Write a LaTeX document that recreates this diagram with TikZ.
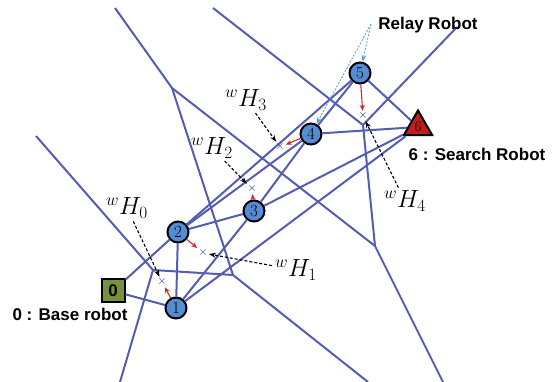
\documentclass[tikz,border=0pt]{standalone}
\usepackage{fontspec}
\usepackage{amsmath}
\usetikzlibrary{shapes.geometric,arrows.meta}
\newfontfamily\lblfont{Liberation Sans}
\definecolor{voro}{RGB}{84,92,180}
\definecolor{robotblue}{RGB}{84,141,212}
\definecolor{baseolive}{RGB}{118,146,60}
\definecolor{searchred}{RGB}{190,30,30}
\definecolor{relayblue}{RGB}{91,155,213}
\definecolor{crossblue}{RGB}{25,40,120}
\definecolor{moveRed}{RGB}{210,40,40}

\begin{document}
\begin{tikzpicture}[x=1pt,y=-1pt,
  robot/.style={circle,draw=black,line width=2pt,fill=robotblue,minimum size=21pt,inner sep=0pt,font=\fontsize{17}{17}\selectfont},
  basebox/.style={draw=black,line width=2pt,fill=baseolive,minimum size=23pt,inner sep=0pt,font=\lblfont\bfseries\fontsize{17}{17}\selectfont},
  searchtri/.style={regular polygon,regular polygon sides=3,draw=black,line width=2pt,fill=searchred,minimum size=33pt,inner sep=0pt,font=\fontsize{15}{15}\selectfont},
  link/.style={draw=voro,line width=2pt},
  hmark/.style={inner sep=1pt,text=crossblue,font=\fontsize{13}{13}\selectfont},
  hlabel/.style={inner sep=1pt,font=\fontsize{23}{23}\selectfont},
  caption/.style={inner sep=0pt,font=\lblfont\bfseries\fontsize{17}{17}\selectfont},
  toward/.style={draw=moveRed,line width=1.1pt,-{Stealth[length=6pt,width=5pt]}},
  pointer/.style={draw=black,line width=1.1pt,dash pattern=on 3pt off 2pt,shorten <=2pt,-{Stealth[length=7pt,width=5pt]}},
  relay/.style={draw=relayblue,line width=0.8pt,dash pattern=on 2pt off 1.5pt,-{Stealth[length=7pt,width=5pt]}}
]
\useasboundingbox (0,0) rectangle (555,382);

% robots
\node[basebox] (r0) at (113,291) {0};
\node[robot] (r1) at (176,308) {1};
\node[robot] (r2) at (178,232) {2};
\node[robot] (r3) at (254,211) {3};
\node[robot] (r4) at (311,134) {4};
\node[robot] (r5) at (360,73) {5};
\node[searchtri] (r6) at (418,127) {6};

% cell borders
\coordinate (v1) at (172,88);
\coordinate (v2) at (233,275);
\coordinate (v3) at (153,270);
\coordinate (v4) at (375,246);
\coordinate (v5) at (363,125);
\coordinate (e1) at (115,8);
\coordinate (e2) at (213,8);
\coordinate (e3) at (457,27);
\coordinate (e4) at (36,136);
\coordinate (e5) at (120,382);
\coordinate (e6) at (368,382);
\coordinate (e7) at (443,382);

\draw[link] (e1) -- (v1) -- (v4) -- (e7);
\draw[link] (v1) -- (v2) -- (e6);
\draw[link] (e4) -- (v3) -- (e5);
\draw[link] (v3) -- (v2);
\draw[link] (e2) -- (v5) -- (e3);
\draw[link] (v5) -- (v4);

% links between robots
\foreach \a/\b in {0/1,0/2,1/2,1/3,1/6,2/3,2/4,2/5,3/4,3/6,4/5,4/6,5/6}{
	\draw[link] (r\a) -- (r\b);
}

% hop points
\node[hmark] (h0) at (162,282) {$\times$};
\node[hmark] (h1) at (203,253) {$\times$};
\node[hmark] (h2) at (252,189) {$\times$};
\node[hmark] (h3) at (280,147) {$\times$};
\node[hmark] (h4) at (363,116) {$\times$};

\draw[toward] (r1) -- (h0);
\draw[toward] (r2) -- (h1);
\draw[toward] (r3) -- (h2);
\draw[toward] (r4) -- (h3);
\draw[toward] (r5) -- (h4);

\node[hlabel] (l0) at (127,208) {${}^{w}H_{0}$};
\node[hlabel] (l1) at (296,270) {${}^{w}H_{1}$};
\node[hlabel] (l2) at (212,148) {${}^{w}H_{2}$};
\node[hlabel] (l3) at (246,100) {${}^{w}H_{3}$};
\node[hlabel] (l4) at (405,201) {${}^{w}H_{4}$};

\draw[pointer] (l0) -- (h0);
\draw[pointer] (l1) -- (h1);
\draw[pointer] (l2) -- (h2);
\draw[pointer] (l3) -- (h3);
\draw[pointer] (l4) -- (h4);

% captions
\node[caption] (relaytxt) at (428,25) {Relay Robot};
\node[caption] (searchtxt) at (477,154) {6 : Search Robot};
\node[caption] (basetxt) at (70,314) {0 : Base robot};

\coordinate (relaytail) at (371,24);
\draw[relay] (relaytail) -- (r5);
\draw[relay] (relaytail) -- (r4);

\end{tikzpicture}
\end{document}
